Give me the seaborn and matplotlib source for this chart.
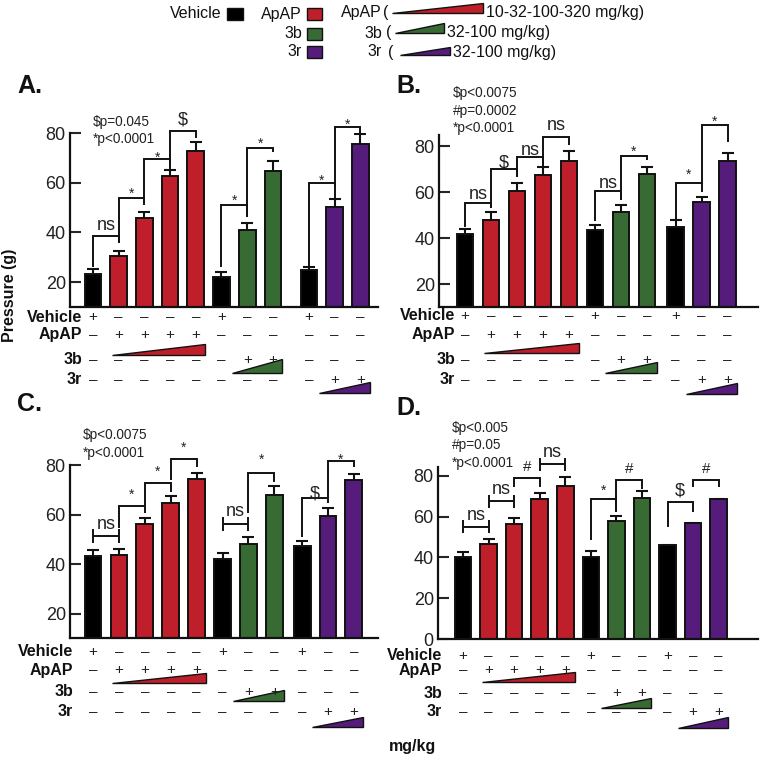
import numpy as np
import pandas as pd
import matplotlib
matplotlib.use("Agg")
import matplotlib.pyplot as plt
import seaborn as sns
from matplotlib.patches import Polygon, Rectangle
from matplotlib.transforms import blended_transform_factory

sns.set_theme(style="white")
plt.rcParams['font.family'] = ['Liberation Sans', 'DejaVu Sans']

# ---------------- data ----------------
groups = ["Vehicle", "ApAP", "ApAP", "ApAP", "ApAP", "Vehicle", "3b", "3b", "Vehicle", "3r", "3r"]
row_names = ["Vehicle", "ApAP", "3b", "3r"]
vehicle_row = ["+", "–", "–", "–", "–", "+", "–", "–", "+", "–", "–"]
apap_row = ["–", "+", "+", "+", "+", "–", "–", "–", "–", "–", "–"]
b3_row = ["–", "–", "–", "–", "–", "–", "+", "+", "–", "–", "–"]
r3_row = ["–", "–", "–", "–", "–", "–", "–", "–", "–", "+", "+"]

means_A = [23.2, 30.5, 45.7, 62.7, 72.7, 22.1, 41.0, 64.9, 24.8, 50.4, 75.6]
sem_A = [2.0, 2.0, 2.7, 2.3, 3.6, 1.9, 2.7, 3.9, 1.3, 3.1, 3.9]
means_B = [41.7, 47.9, 60.3, 67.4, 73.6, 43.3, 51.5, 67.7, 45.0, 55.6, 73.6]
sem_B = [2.2, 3.6, 3.5, 3.4, 4.2, 2.2, 2.9, 3.3, 2.9, 2.4, 3.2]
means_C = [43.5, 43.8, 56.1, 64.8, 74.2, 42.0, 48.0, 67.9, 47.4, 59.5, 74.0]
sem_C = [2.3, 2.4, 2.4, 2.7, 2.7, 2.4, 2.9, 3.6, 2.0, 3.0, 2.4]
means_D = [40.2, 46.6, 56.6, 68.8, 75.2, 40.4, 58.0, 69.0, 46.3, 57.1, 68.5]
sem_D = [2.6, 2.5, 2.8, 3.0, 4.3, 2.9, 2.6, 3.6, 0.0, 0.0, 0.0]

ptext_A = ["$p=0.045", "*p<0.0001"]
ptext_B = ["$p<0.0075", "#p=0.0002", "*p<0.0001"]
ptext_C = ["$p<0.0075", "*p<0.0001"]
ptext_D = ["$p<0.005", "#p=0.05", "*p<0.0001"]

# significance brackets: (bar i, bar j, label, style, y, left-leg/half, right-leg, label y)
br_A = [(0, 1, "ns", "h", 38.5, 26.2, 35.7, 43.0), (1, 2, "*", "h", 53.9, 35.7, 51.0, 57.4),
        (2, 3, "*", "h", 69.6, 51.8, 66.6, 72.0), (3, 4, "$", "h", 80.9, 65.2, 78.0, 86.0),
        (5, 6, "*", "h", 51.0, 26.1, 46.3, 54.4), (6, 7, "*", "h", 74.0, 46.3, 72.5, 77.5),
        (8, 9, "*", "h", 60.0, 26.1, 58.6, 62.7), (9, 10, "*", "h", 82.5, 52.3, 80.0, 85.3)]
br_B = [(0, 1, "ns", "h", 55.4, 45.0, 53.0, 59.2), (1, 2, "$", "h", 69.9, 53.0, 66.7, 73.6),
        (2, 3, "ns", "h", 75.1, 66.7, 71.8, 78.3), (3, 4, "ns", "h", 84.0, 71.0, 80.4, 89.0),
        (5, 6, "ns", "h", 60.5, 47.2, 56.6, 64.0), (6, 7, "*", "h", 75.7, 56.6, 73.9, 79.4),
        (8, 9, "*", "h", 64.1, 46.5, 63.0, 69.3), (9, 10, "*", "h", 89.1, 60.2, 81.9, 92.7)]
br_C = [(0, 1, "ns", "I", 51.5, 2.8, None, 56.2), (1, 2, "*", "h", 63.5, 54.5, 60.5, 69.9),
        (2, 3, "*", "h", 72.6, 63.5, 69.3, 79.3), (3, 4, "*", "h", 82.3, 74.0, 79.3, 88.7),
        (5, 6, "ns", "I", 56.2, 2.7, None, 61.6), (6, 7, "*", "h", 76.6, 60.5, 73.3, 84.0),
        (8, 9, "$", "h", 66.8, 51.1, 64.8, 69.3), (9, 10, "*", "h", 81.6, 67.2, 79.0, 84.0)]
br_D = [(0, 1, "ns", "I", 55.2, 3.3, None, 60.6), (1, 2, "ns", "I", 67.6, 3.3, None, 73.4),
        (2, 3, "#", "h", 78.8, 74.4, 74.4, 84.9), (3, 4, "ns", "I", 85.7, 3.3, None, 91.8),
        (5, 6, "*", "h", 68.5, 48.8, 63.5, 75.0), (6, 7, "#", "h", 77.8, 62.5, 73.4, 84.0),
        (8, 9, "$", "h", 67.0, 55.2, 62.5, 73.4), (9, 10, "#", "h", 77.8, 74.4, 74.4, 84.0)]

palette = {"Vehicle": "#000000", "ApAP": "#BE1F2A", "3b": "#386B34", "3r": "#551C7B"}

# ---------------- layout ----------------
W, H = 761, 758
fig = plt.figure(figsize=(W / 100, H / 100), dpi=100)


def fax(l, t, r, b):
    return fig.add_axes([l / W, 1 - b / H, (r - l) / W, (b - t) / H])


panels = [
    dict(name="A.", box=(70, 133, 378, 307), ylim=(10, 80), xlim=(-0.895, 11.09), gap=0.4,
         yt=[20, 40, 60, 80], means=means_A, sem=sem_A, br=br_A, pt=ptext_A, ptxy=(93, 122),
         letter=(17, 86), rows=[317, 335, 360, 380], lab_x=-0.43,
         ramps=[(355, 344), (373, 359), (393, 382)]),
    dict(name="B.", box=(439, 135, 758, 307), ylim=(10, 84.8), xlim=(-1.0, 11.27), gap=0.1,
         yt=[20, 40, 60, 80], means=means_B, sem=sem_B, br=br_B, pt=ptext_B, ptxy=(453, 93),
         letter=(396, 86), rows=[316, 335, 360, 380], lab_x=-0.38,
         ramps=[(353, 343), (373, 362), (394, 383)]),
    dict(name="C.", box=(70, 465, 378, 638), ylim=(10.3, 80), xlim=(-0.89, 11.0), gap=0.07,
         yt=[20, 40, 60, 80], means=means_C, sem=sem_C, br=br_C, pt=ptext_C, ptxy=(83, 435),
         letter=(17, 404), rows=[652, 670, 692, 712], lab_x=-0.77,
         ramps=[(683, 673), (701, 690), (727, 717)]),
    dict(name="D.", box=(438, 467, 758, 639), ylim=(0, 84.4), xlim=(-0.98, 11.54), gap=0.0,
         yt=[0, 20, 40, 60, 80], means=means_D, sem=sem_D, br=br_D, pt=ptext_D, ptxy=(452, 428),
         letter=(396, 408), rows=[656, 670, 693, 712], lab_x=-0.82,
         ramps=[(682, 672), (708, 698), (728, 717)]),
]

label_fs = {"ns": 13, "$": 13, "#": 11, "*": 10}
label_c = {"ns": 0.27, "$": 0.36, "#": 0.35, "*": 0.62}

over = fig.add_axes([0, 0, 1, 1], zorder=10)
over.set_xlim(0, W)
over.set_ylim(H, 0)
over.set_autoscale_on(False)
over.axis("off")

rows_all = [vehicle_row, apap_row, b3_row, r3_row]
ramp_groups = ["ApAP", "3b", "3r"]
ramp_start = {"ApAP": 0.27, "3b": 0.6, "3r": 0.6}

for P in panels:
    ax = fax(*P["box"])
    xpos = [i + (P["gap"] if i >= 8 else 0) for i in range(len(groups))]
    df = pd.DataFrame({"x": xpos, "y": P["means"], "g": groups})
    sns.barplot(data=df, x="x", y="y", hue="g", palette=palette, native_scale=True,
                dodge=False, width=0.65, edgecolor="#111111", linewidth=1.4, saturation=1,
                errorbar=None, legend=False, ax=ax, zorder=2)
    sem = np.array(P["sem"])
    eb = ax.errorbar(xpos, P["means"], yerr=[np.zeros_like(sem), sem], fmt="none",
                     ecolor="#111111", elinewidth=1.5, capsize=4, capthick=1.5, zorder=1)
    eb[1][0].set_visible(False)
    ax.set_xlim(*P["xlim"])
    ax.set_ylim(*P["ylim"])
    ax.set_xlabel("")
    ax.set_ylabel("")
    ax.set_xticks([])
    ax.set_yticks(P["yt"])
    ax.tick_params(axis="y", direction="in", length=8, width=1.5, labelsize=13,
                   labelcolor="#222222", pad=3, left=True)
    for s in ["top", "right"]:
        ax.spines[s].set_visible(False)
    for s in ["left", "bottom"]:
        ax.spines[s].set_color("#111111")
        ax.spines[s].set_linewidth(1.6)
    ax.patch.set_alpha(0)

    # brackets
    for (i, j, lab, st, y, a, b, ly) in P["br"]:
        x1, x2 = xpos[i], xpos[j]
        kw = dict(color="#111111", lw=1.4, clip_on=False, solid_capstyle="butt",
                  solid_joinstyle="miter", zorder=3)
        if st == "h":
            ax.plot([x1, x1, x2, x2], [a, y, y, b], **kw)
        else:
            ax.plot([x1, x2], [y, y], **kw)
            ax.plot([x1, x1], [y - a, y + a], **kw)
            ax.plot([x2, x2], [y - a, y + a], **kw)
        fs = label_fs[lab]
        ax.annotate(lab, xy=((x1 + x2) / 2, ly), xytext=(0, -label_c[lab] * fs),
                    textcoords="offset points", ha="center", va="baseline",
                    fontsize=fs, color="#222222", annotation_clip=False)

    # p-value notes
    px, py = P["ptxy"]
    for k, t in enumerate(P["pt"]):
        over.text(px, py + k * 17.5, t, fontsize=9.8, color="#222222", ha="left", va="center")

    # panel letter
    over.text(P["letter"][0], P["letter"][1], P["name"], fontsize=18, fontweight="bold",
              ha="left", va="center", color="#111111")

    # treatment table
    tr = blended_transform_factory(ax.transData, over.transData)
    for rn, rvals, ry in zip(row_names, rows_all, P["rows"]):
        over.text(P["lab_x"], ry, rn, transform=tr, fontsize=11.5, fontweight="bold",
                  ha="right", va="center", color="#111111")
        for xx, sym in zip(xpos, rvals):
            over.text(xx, ry, sym, transform=tr, fontsize=11, ha="center", va="center",
                      color="#222222")
    for g, (yb, yt) in zip(ramp_groups, P["ramps"]):
        idx = [k for k, gg in enumerate(groups) if gg == g]
        x0 = xpos[idx[0]] - ramp_start[g]
        x1 = xpos[idx[-1]] + 0.37
        poly = Polygon([(x0, yb), (x1, yb), (x1, yt)], closed=True, fc=palette[g],
                       ec="#111111", lw=1.0, transform=tr, joinstyle="miter")
        over.add_patch(poly)

# y axis label and x label
over.text(10, 295, "Pressure (g)", rotation=90, fontsize=11.5, fontweight="bold",
          ha="center", va="center", color="#111111")
over.text(413, 747, "mg/kg", fontsize=11.5, fontweight="bold", ha="center", va="center",
          color="#111111")

# ---------------- legend (top) ----------------
leg_fs = 11.5
over.text(222, 14, "Vehicle", fontsize=leg_fs, ha="right", va="center", color="#111111")
over.add_patch(Rectangle((227, 8), 16, 12, fc=palette["Vehicle"], ec="#111111", lw=1))
for g, yy in zip(ramp_groups, [14, 34, 52]):
    over.text(302, yy, g, fontsize=leg_fs, ha="right", va="center", color="#111111")
    over.add_patch(Rectangle((307, yy - 6), 15, 12, fc=palette[g], ec="#111111", lw=1))

leg2 = [("ApAP", 13, 386, 392, 483, 13, 3, "10-32-100-320 mg/kg)"),
        ("3b", 33, 389, 395, 444, 33, 23, "32-100 mg/kg)"),
        ("3r", 52, 391, 400, 450, 55, 47, "32-100 mg/kg)")]
for g, yy, xp, r0, r1, rb, rt, txt in leg2:
    over.text(382, yy, g, fontsize=leg_fs, ha="right", va="center", color="#111111")
    over.text(xp, yy, "(", fontsize=leg_fs, ha="center", va="center", color="#111111")
    over.add_patch(Polygon([(r0, rb), (r1, rb), (r1, rt)], closed=True, fc=palette[g],
                           ec="#111111", lw=1.0))
    over.text(r1 + 3, yy, txt, fontsize=leg_fs, ha="left", va="center", color="#111111")

fig.savefig("out.png", dpi=100)
